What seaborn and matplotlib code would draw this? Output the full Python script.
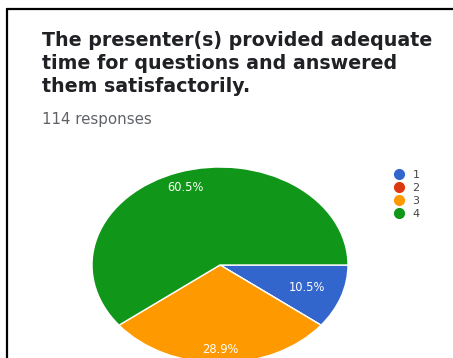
import matplotlib
matplotlib.use("Agg")
import numpy as np
import matplotlib.pyplot as plt
from matplotlib.lines import Line2D
import seaborn as sns

sns.set_theme(style="white")
plt.rcParams["font.family"] = ["DejaVu Sans"]

# Survey answers (scale 1-4) and how many respondents chose each
categories = ["1", "2", "3", "4"]
counts = [12, 0, 33, 69]
colors = ["#3366cc", "#dc3912", "#ff9900", "#109618"]
title = "The presenter(s) provided adequate\ntime for questions and answered\nthem satisfactorily."
subtitle = "114 responses"

W, H = 453, 358
fig = plt.figure(figsize=(W / 100, H / 100), dpi=100)
fig.patch.set_facecolor("white")

# Pie axes stretched horizontally so the pie renders as an ellipse
ax = fig.add_axes([92 / W, (H - 363) / H, 256 / W, 196 / H])
wedges, texts, autotexts = ax.pie(
    counts,
    colors=colors,
    startangle=0,
    counterclock=False,
    autopct=lambda p: f"{p:.1f}%" if p > 0 else "",
    pctdistance=0.8,
    wedgeprops=dict(edgecolor="white", linewidth=1.0),
    textprops=dict(color="white", fontsize=8.3),
)
# Percent labels sit at slightly different depths inside each slice
label_dist = [0.72, 0.8, 0.86, 0.84]
for w, t, d in zip(wedges, autotexts, label_dist):
    mid = np.deg2rad((w.theta1 + w.theta2) / 2)
    t.set_position((d * np.cos(mid), d * np.sin(mid)))
ax.set_aspect("auto")
ax.set_xlim(-1, 1)
ax.set_ylim(-1, 1)
ax.axis("off")

# Heading and response count
fig.text(42 / W, 1 - 31 / H, title, ha="left", va="top", fontsize=13.7,
         fontweight="bold", color="#202124", linespacing=1.26)
fig.text(42 / W, 1 - 112 / H, subtitle, ha="left", va="top", fontsize=10.8,
         color="#5f6368")

# Legend with round markers
handles = [Line2D([], [], marker="o", linestyle="none", markersize=7,
                  markerfacecolor=c, markeredgecolor=c) for c in colors]
fig.legend(handles, categories, loc="upper left",
           bbox_to_anchor=(387 / W, 1 - 164 / H), frameon=False,
           fontsize=8, labelcolor="#444444", handletextpad=0.6,
           labelspacing=0.28, handlelength=1.2, borderpad=0)

# Card border: left and top edges
fig.add_artist(Line2D([7 / W, 7 / W], [0, 1 - 9 / H], color="black",
                      linewidth=1.6, transform=fig.transFigure))
fig.add_artist(Line2D([7 / W, 1], [1 - 9 / H, 1 - 9 / H], color="black",
                      linewidth=1.6, transform=fig.transFigure))

fig.savefig("out.png", dpi=100, facecolor="white")
